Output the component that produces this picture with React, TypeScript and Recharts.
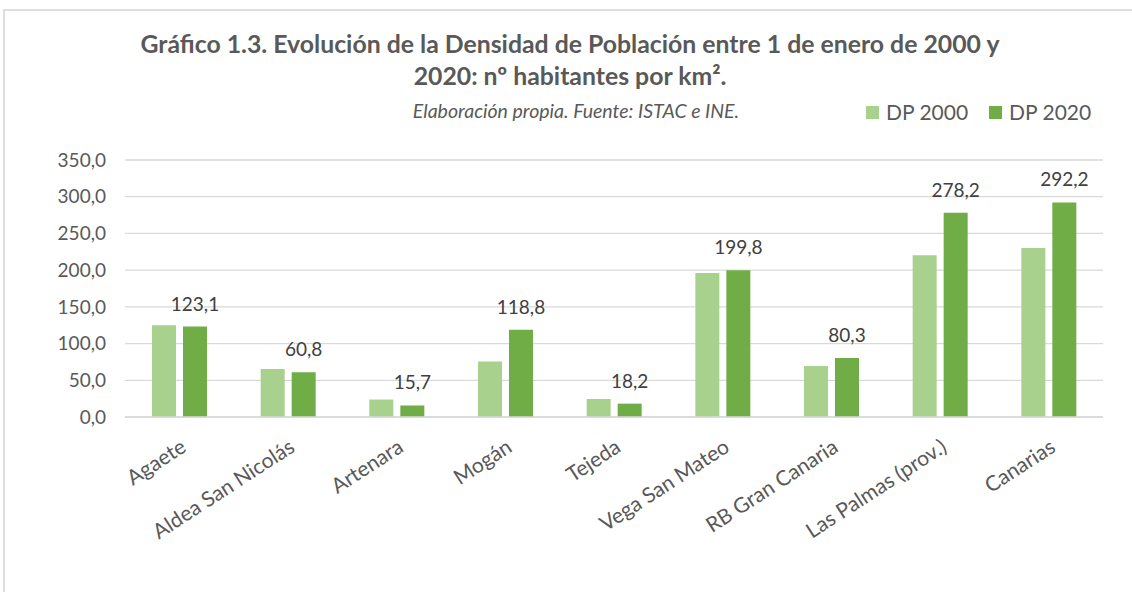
import React from 'react';
import { BarChart, Bar, XAxis, YAxis, CartesianGrid, Legend, LabelList } from 'recharts';

const categories = [
  'Agaete',
  'Aldea San Nicolás',
  'Artenara',
  'Mogán',
  'Tejeda',
  'Vega San Mateo',
  'RB Gran Canaria',
  'Las Palmas (prov.)',
  'Canarias',
];
const dp2000 = [124.9, 65.5, 23.8, 75.7, 24.5, 196.1, 69.6, 220.2, 230.1];
const dp2020 = [123.1, 60.8, 15.7, 118.8, 18.2, 199.8, 80.3, 278.2, 292.2];
const yTicks = [0, 50, 100, 150, 200, 250, 300, 350];

const data = categories.map((name, i) => ({ name, dp2000: dp2000[i], dp2020: dp2020[i] }));

const fmt = (v: number) => Number(v).toFixed(1).replace('.', ',');

const TEXT = '#595959';

const renderLegend = (props: any) => {
  const { payload = [] } = props;
  return (
    <div style={{ display: 'flex', alignItems: 'center' }}>
      {payload.map((p: any, i: number) => (
        <span key={p.value} style={{ display: 'flex', alignItems: 'center', marginRight: i === 0 ? 21 : 0 }}>
          <span style={{ display: 'inline-block', width: 13, height: 13, background: p.color, marginRight: 7 }} />
          <span style={{ fontSize: 21, color: TEXT, lineHeight: '24px' }}>{p.value}</span>
        </span>
      ))}
    </div>
  );
};

const App: React.FC = () => {
  return (
    <div
      style={{
        position: 'absolute',
        left: 0,
        top: 0,
        width: 1132,
        height: 592,
        overflow: 'hidden',
        background: '#fff',
        fontFamily: 'Lato, "Open Sans", sans-serif',
      }}
    >
      {/* frame: only left and top edges show in the crop */}
      <div style={{ position: 'absolute', left: 3, top: 9, width: 1129, height: 2, background: '#dedede' }} />
      <div style={{ position: 'absolute', left: 3, top: 9, width: 2, height: 583, background: '#dedede' }} />

      <svg width={1132} height={592} style={{ position: 'absolute', left: 0, top: 0 }}>
        <text x={570} y={53} textAnchor="middle" fontSize={24.8} fontWeight={700} fill={TEXT}>
          Gráfico 1.3. Evolución de la Densidad de Población entre 1 de enero de 2000 y
        </text>
        <text x={570} y={85} textAnchor="middle" fontSize={24.8} fontWeight={700} fill={TEXT}>
          2020: nº habitantes por km².
        </text>
        <text x={576} y={118} textAnchor="middle" fontSize={19.5} fontStyle="italic" fill={TEXT}>
          Elaboración propia. Fuente: ISTAC e INE.
        </text>
      </svg>

      <div style={{ position: 'absolute', left: 0, top: 0 }}>
        <BarChart
          width={1132}
          height={592}
          data={data}
          margin={{ top: 160, right: 29, bottom: 25, left: 25 }}
          barSize={24}
          barGap={7}
        >
          <CartesianGrid vertical={false} stroke="#d9d9d9" strokeWidth={1.3} />
          <XAxis
            dataKey="name"
            interval={0}
            height={150}
            tickLine={false}
            tickSize={0}
            tickMargin={21}
            axisLine={{ stroke: '#d9d9d9', strokeWidth: 1.3 }}
            tick={{ angle: -33, textAnchor: 'end', fill: TEXT, fontSize: 21 }}
          />
          <YAxis
            width={100}
            domain={[0, 350]}
            ticks={yTicks}
            axisLine={false}
            tickLine={false}
            tickSize={0}
            tickMargin={19}
            tickFormatter={fmt}
            tick={{ fill: TEXT, fontSize: 19 }}
          />
          <Legend
            layout="horizontal"
            verticalAlign="middle"
            align="center"
            content={renderLegend}
            wrapperStyle={{ position: 'absolute', top: 100, left: 866, width: 240 }}
          />
          <Bar dataKey="dp2000" name="DP 2000" fill="#a9d18e" isAnimationActive={false} />
          <Bar dataKey="dp2020" name="DP 2020" fill="#70ad47" isAnimationActive={false}>
            <LabelList dataKey="dp2020" position="top" offset={16} formatter={fmt} fill="#404040" fontSize={19} />
          </Bar>
        </BarChart>
      </div>
    </div>
  );
};

export default App;
